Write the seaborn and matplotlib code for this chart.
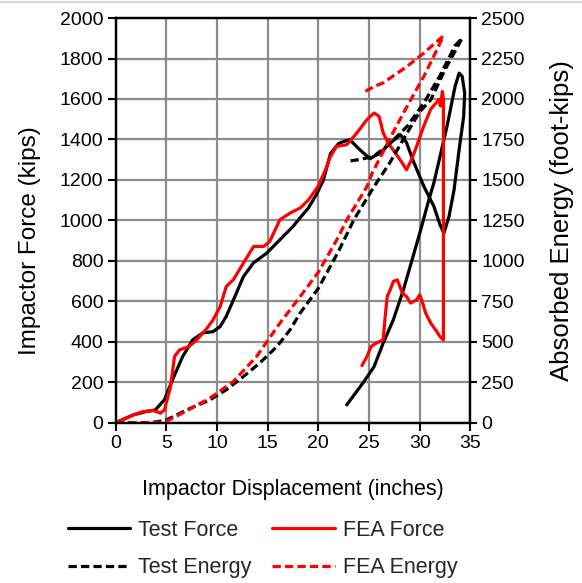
import pandas as pd
import matplotlib
matplotlib.use("Agg")
import matplotlib.pyplot as plt
from matplotlib.lines import Line2D
import seaborn as sns

# Test force (kips) vs displacement (in) - loading, then rebound back to the left
test_force_x = [0, 1.7, 3.0, 3.9, 4.8, 5.6, 6.6, 7.6, 8.6, 9.6, 10.3, 10.9, 11.9, 12.6,
                13.6, 14.9, 16.2, 17.5, 18.2, 19.0, 19.8, 20.5, 21.2, 22.0, 22.5, 23.1,
                24.1, 25.1, 26.1, 27.1, 28.1, 28.7, 29.4, 30.4, 31.4, 32.0, 32.4, 32.9,
                33.4, 33.9, 34.35, 34.45, 34.2, 33.9, 33.5, 32.7, 31.4, 30.9, 30.2, 29.4,
                28.4, 27.4, 26.4, 25.5, 24.5, 22.8]
test_force_y = [0, 38, 55, 63, 113, 212, 327, 410, 444, 450, 475, 525, 640, 722,
                790, 838, 904, 970, 1013, 1060, 1127, 1200, 1330, 1380, 1390, 1399,
                1349, 1305, 1333, 1382, 1423, 1385, 1290, 1170, 1070, 980, 937, 1019,
                1151, 1349, 1514, 1630, 1712, 1728, 1662, 1464, 1184, 1100, 970, 830,
                657, 508, 393, 277, 203, 88]

# FEA force - loading, sudden drop, then rebound
fea_force_x = [0, 1.7, 2.7, 3.7, 4.4, 4.8, 5.4, 5.8, 6.3, 7.2, 8.0, 9.0, 9.6, 10.3,
               10.9, 11.6, 12.6, 13.6, 14.6, 15.2, 16.2, 17.2, 18.2, 19.0, 20.0, 20.7,
               21.2, 21.8, 22.8, 23.8, 24.8, 25.5, 26.0, 26.4, 26.9, 27.6, 28.3, 28.7,
               29.2, 29.7, 30.4, 31.1, 31.7, 31.9, 32.05, 32.25, 32.35, 32.35, 32.0,
               31.7, 31.1, 30.6, 30.2, 30.0, 29.7, 29.1, 28.7, 28.3, 27.8, 27.4, 27.1,
               26.8, 26.6, 26.4, 25.7, 25.2, 24.8, 24.3]
fea_force_y = [0, 38, 55, 60, 47, 63, 179, 327, 360, 376, 409, 467, 508, 574,
               673, 706, 789, 871, 871, 896, 1003, 1036, 1061, 1100, 1170, 1250,
               1316, 1366, 1374, 1432, 1498, 1531, 1514, 1432, 1382, 1333, 1283, 1250,
               1300, 1366, 1465, 1550, 1585, 1597, 1565, 1638, 1600, 409, 426,
               450, 492, 541, 607, 632, 607, 591, 624, 640, 706, 698, 657,
               624, 525, 409, 393, 376, 327, 282]

# Absorbed energy (foot-kips)
test_energy_x = [0, 3.0, 4.0, 5.0, 7.0, 9.3, 10.9, 12.6, 14.2, 15.9, 17.2, 18.2, 20.0,
                 22.0, 23.5, 25.5, 27.0, 28.75, 30.0, 31.1, 32.5, 34.2,
                 33.5, 32.0, 30.4, 28.75, 27.1, 25.45, 24.0, 22.8]
test_energy_y = [0, 0, 5, 17, 79, 141, 203, 285, 368, 470, 573, 677, 830,
                 1060, 1253, 1459, 1600, 1789, 1920, 1995, 2180, 2376,
                 2330, 2143, 1974, 1830, 1727, 1645, 1625, 1614]
fea_energy_x = [0, 4.0, 5.0, 6.6, 9.3, 11.6, 13.9, 16.2, 18.2, 20.0, 22.0, 22.8,
                24.8, 25.3, 27.0, 28.4, 30.5, 31.7, 32.35,
                31.7, 30.4, 28.75, 27.8, 26.4, 25.5, 24.3]
fea_energy_y = [0, 0, 8, 60, 152, 254, 409, 615, 779, 930, 1150, 1253,
                1459, 1540, 1748, 1913, 2150, 2304, 2390,
                2355, 2283, 2201, 2160, 2100, 2077, 2036]

sns.set_theme(style="white")
plt.rcParams["font.family"] = ["Liberation Sans", "DejaVu Sans"]
plt.rcParams["font.size"] = 14

fig = plt.figure(figsize=(5.82, 5.83), dpi=100)
ax = fig.add_axes([0.199, 0.275, 0.609, 0.694])
ax2 = ax.twinx()

# thin grey border at the top of the screenshot
fig.add_artist(Line2D([0, 1], [0.9965, 0.9965], color="#cccccc", lw=1.2))

lw = 2.3
dash = (0, (2.6, 1.3))

sns.lineplot(x=test_force_x, y=test_force_y, sort=False, estimator=None,
             color="black", lw=lw, ax=ax, label="Test Force", legend=False)
sns.lineplot(x=fea_force_x, y=fea_force_y, sort=False, estimator=None,
             color="#ff0000", lw=lw, ax=ax, label="FEA Force", legend=False)
sns.lineplot(x=test_energy_x, y=test_energy_y, sort=False, estimator=None,
             color="black", lw=lw, ls=dash, ax=ax2, label="Test Energy", legend=False)
sns.lineplot(x=fea_energy_x, y=fea_energy_y, sort=False, estimator=None,
             color="#ff0000", lw=lw, ls=dash, ax=ax2, label="FEA Energy", legend=False)

ax.set_xlim(0, 35)
ax.set_ylim(0, 2000)
ax2.set_ylim(0, 2500)
ax.set_xticks(range(0, 36, 5))
ax.set_yticks(range(0, 2001, 200))
ax2.set_yticks(range(0, 2501, 250))

ax.grid(True, color="#8c8c8c", lw=1.6)
ax.set_axisbelow(True)
for a in (ax, ax2):
    for s in a.spines.values():
        s.set_color("black")
        s.set_linewidth(1.6)
ax.tick_params(axis="both", direction="out", length=6, width=1.5, color="black",
               labelsize=14, labelcolor="black", left=True, bottom=True, pad=3)
ax2.tick_params(axis="y", direction="out", length=5, width=1.5, color="black",
                labelsize=14, labelcolor="black", right=True, pad=3)

ax.set_xlabel("Impactor Displacement (inches)", fontsize=15.5, color="black")
ax.set_ylabel("Impactor Force (kips)", fontsize=17.5, color="black")
ax2.set_ylabel("Absorbed Energy (foot-kips)", fontsize=18.5, color="black")
ax.xaxis.set_label_coords(0.5, -0.14)
ax.yaxis.set_label_coords(-0.212, 0.449)
ax2.yaxis.set_label_coords(1.224, 0.5)

h1, l1 = ax.get_legend_handles_labels()
h2, l2 = ax2.get_legend_handles_labels()
handles = [h1[0], h2[0], h1[1], h2[1]]
labels = [l1[0], l2[0], l1[1], l2[1]]
fig.legend(handles, labels, loc="center left", bbox_to_anchor=(68 / 582, 1 - 549 / 583),
           ncol=2, frameon=False, fontsize=15.5, handlelength=2.9, handletextpad=0.37,
           columnspacing=0.95, labelspacing=0.75, borderpad=0, borderaxespad=0)

fig.savefig("out.png", dpi=100)
